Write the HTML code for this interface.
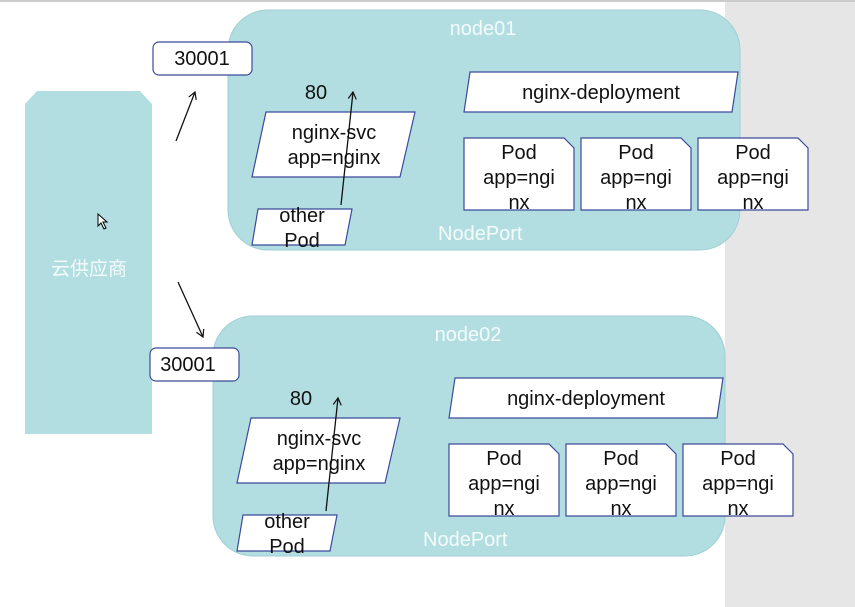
<!DOCTYPE html>
<html><head><meta charset="utf-8"><style>
html,body{margin:0;padding:0;background:#fff}
svg{display:block}
text{font-family:"Liberation Sans","Noto Sans CJK SC",sans-serif;font-size:20px;fill:#111}
.w{fill:#f4fbfb}
</style></head><body>
<svg width="855" height="607" viewBox="0 0 855 607" xmlns="http://www.w3.org/2000/svg">
<defs><marker id="a" markerWidth="10" markerHeight="10" refX="8" refY="5" orient="auto" markerUnits="userSpaceOnUse"><path d="M1,1 L8,5 L1,9" fill="none" stroke="#111" stroke-width="1.2"/></marker></defs>
<rect x="0" y="0" width="855" height="607" fill="#fff"/>
<rect x="725" y="0" width="130" height="607" fill="#e6e6e6"/>
<rect x="0" y="0" width="855" height="2" fill="#ccc"/>
<path d="M25,104 L37,91 L140,91 L152,104 L152,434 L25,434 Z" fill="#b3dee1"/>
<text x="89" y="275" text-anchor="middle" class="w" style="font-size:19px">云供应商</text>
<path d="M98,214 l0,12 l3,-3 l3,6 l2,-1 l-3,-6 l4,0 Z" fill="#fff" stroke="#000" stroke-width="1"/>
<line x1="176" y1="141" x2="195" y2="92" stroke="#111" stroke-width="1.3" marker-end="url(#a)"/>
<line x1="178" y1="282" x2="203" y2="337" stroke="#111" stroke-width="1.3" marker-end="url(#a)"/>

<g id="n1">
<rect x="228" y="10" width="512" height="240" rx="40" fill="#b3dee1" stroke="#9fcfd2"/>
<text x="438" y="240" class="w">NodePort</text>
<text x="316" y="99" text-anchor="middle">80</text>
<path d="M266,112 L415,112 L400,177 L252,177 Z" fill="#fff" stroke="#3c4a9a" stroke-width="1.2"/>
<text x="334" y="139" text-anchor="middle">nginx-svc</text>
<text x="334" y="164" text-anchor="middle">app=nginx</text>
<path d="M258,209 L352,209 L345,245 L252,245 Z" fill="#fff" stroke="#3c4a9a" stroke-width="1.2"/>
<text x="302" y="222" text-anchor="middle">other</text>
<text x="302" y="247" text-anchor="middle">Pod</text>
<line x1="341" y1="205" x2="353" y2="92" stroke="#111" stroke-width="1.3" marker-end="url(#a)"/>
<path d="M470,72 L738,72 L732,112 L464,112 Z" fill="#fff" stroke="#3c4a9a" stroke-width="1.2"/>
<text x="601" y="99" text-anchor="middle">nginx-deployment</text>
<g><path d="M464,138 L564,138 L574,148 L574,210 L464,210 Z" fill="#fff" stroke="#3c4a9a" stroke-width="1.2"/>
<text x="519" y="159" text-anchor="middle">Pod</text><text x="519" y="184" text-anchor="middle">app=ngi</text><text x="519" y="209" text-anchor="middle">nx</text></g>
<g transform="translate(117,0)"><path d="M464,138 L564,138 L574,148 L574,210 L464,210 Z" fill="#fff" stroke="#3c4a9a" stroke-width="1.2"/>
<text x="519" y="159" text-anchor="middle">Pod</text><text x="519" y="184" text-anchor="middle">app=ngi</text><text x="519" y="209" text-anchor="middle">nx</text></g>
<g transform="translate(234,0)"><path d="M464,138 L564,138 L574,148 L574,210 L464,210 Z" fill="#fff" stroke="#3c4a9a" stroke-width="1.2"/>
<text x="519" y="159" text-anchor="middle">Pod</text><text x="519" y="184" text-anchor="middle">app=ngi</text><text x="519" y="209" text-anchor="middle">nx</text></g>
</g>
<use href="#n1" transform="translate(-15,306)"/>
<text x="483" y="35" text-anchor="middle" class="w">node01</text>
<text x="468" y="341" text-anchor="middle" class="w">node02</text>

<rect x="153" y="42" width="99" height="33" rx="6" fill="#fff" stroke="#3c4a9a" stroke-width="1.2"/>
<text x="202" y="65" text-anchor="middle">30001</text>
<rect x="150" y="348" width="89" height="33" rx="6" fill="#fff" stroke="#3c4a9a" stroke-width="1.2"/>
<text x="188" y="371" text-anchor="middle">30001</text>
</svg>
</body></html>
